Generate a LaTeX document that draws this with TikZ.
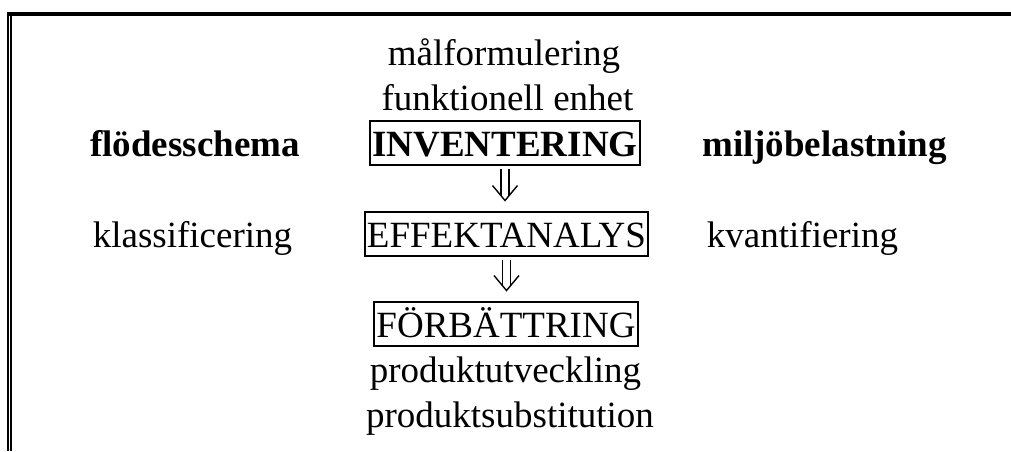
\documentclass[tikz,border=0pt]{standalone}
\usepackage{fontspec}
\setmainfont{Liberation Serif}
\usetikzlibrary{calc}
\newcommand\stagearrow[2]{%
  \coordinate (#1-top) at ($(#1.south)+(0,3)$);
  \coordinate (#1-tip) at ($(#1-top |- #2.north)+(0,-10.5)$);
  \draw[dblarrow] ($(#1-top)+(-4,0)$) -- ($(#1-tip)+(-4,-4.8)$);
  \draw[dblarrow] ($(#1-top)+(4,0)$) -- ($(#1-tip)+(4,-4.8)$);
  \draw[dblarrow] ($(#1-tip)+(-12.5,-15)$) -- (#1-tip) -- ($(#1-tip)+(12.5,-15)$);
}
\begin{document}
\begin{tikzpicture}[x=1pt,y=-1pt,
  txt/.style={anchor=base, inner sep=0pt, font=\fontsize{37}{45}\selectfont},
  boldtxt/.style={anchor=base, inner sep=0pt, font=\fontsize{37}{45}\selectfont\bfseries},
  stagebox/.style={draw, line width=2pt, anchor=base, text height=34pt, text depth=7.5pt, inner xsep=2pt, inner ysep=1pt},
  dblarrow/.style={line width=1.4pt, line join=miter}]
\useasboundingbox (0,0) rectangle (1011,451);
% frame
\draw[line width=4pt] (7,14) -- (1011,14);
\draw[line width=2pt] (8,12) -- (8,451);
\draw[line width=2pt] (11,16) -- (11,451);
% texts
\node[txt] (mal) at (504,65) {målformulering};
\node[txt] (funk) at (507.5,110) {funktionell enhet};
\node[boldtxt] (flode) at (195,156) {flödesschema};
\node[boldtxt] (miljo) at (824.5,156) {miljöbelastning};
\node[stagebox, font=\fontsize{37}{45}\selectfont\bfseries] (inv) at (505,156) {INVENTERING};
\node[txt] (klass) at (192.5,247) {klassificering};
\node[txt] (kvant) at (802.5,247) {kvantifiering};
\node[stagebox, font=\fontsize{37}{45}\selectfont] (eff) at (506.5,247) {EFFEKTANALYS};
\node[stagebox, font=\fontsize{37}{45}\selectfont] (forb) at (506,337) {FÖRBÄTTRING};
\node[txt] (produt) at (505.5,382) {produktutveckling};
\node[txt] (prodsub) at (510,427) {produktsubstitution};
% arrows
\stagearrow{inv}{eff}
\stagearrow{eff}{forb}
\end{tikzpicture}
\end{document}
